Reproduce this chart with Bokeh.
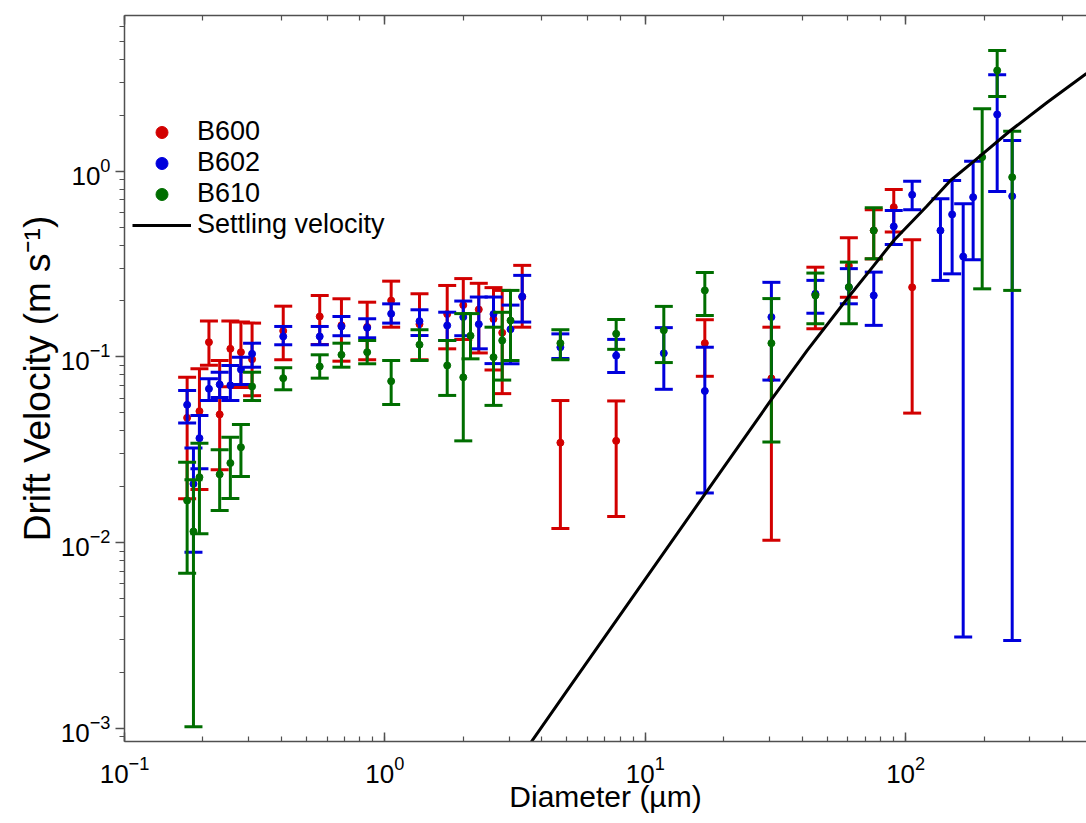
from bokeh.plotting import figure
from bokeh.models import (LogAxis, Range1d, Legend, LegendItem,
                          CustomJSTickFormatter, LogTicker)
from bokeh.embed import file_html
from bokeh.resources import INLINE

FONT = "Liberation Sans"

# ---- B600 (diameter in µm, drift velocity in m/s, lower / upper bounds)
b600_d = [0.174, 0.194, 0.211, 0.232, 0.255, 0.280, 0.309, 0.407, 0.562, 0.681,
          0.855, 1.057, 1.358, 1.735, 2.0, 2.294, 2.613, 2.822, 3.368, 4.72,
          7.73, 16.93, 30.5, 45.0, 60.5, 75.4, 90.0, 105.9]
b600_v = [0.047, 0.051, 0.120, 0.049, 0.1105, 0.106, 0.097, 0.138, 0.165, 0.148,
          0.145, 0.201, 0.150, 0.170, 0.190, 0.180, 0.160, 0.135, 0.210, 0.0345,
          0.0353, 0.1185, 0.0766, 0.2167, 0.31, 0.479, 0.64, 0.237]
b600_lo = [0.0172, 0.0193, 0.090, 0.0247, 0.069, 0.0685, 0.0618, 0.0965, 0.1166, 0.0948,
           0.0965, 0.1445, 0.0965, 0.1105, 0.124, 0.105, 0.085, 0.0634, 0.1445, 0.0119,
           0.0138, 0.0786, 0.0103, 0.1417, 0.2094, 0.337, 0.47, 0.0498]
b600_hi = [0.0777, 0.0863, 0.156, 0.0956, 0.156, 0.154, 0.152, 0.1875, 0.214, 0.2055,
           0.197, 0.2557, 0.2187, 0.2424, 0.264, 0.249, 0.236, 0.228, 0.311, 0.0582,
           0.0579, 0.1585, 0.1445, 0.304, 0.4376, 0.62, 0.797, 0.427]

# ---- B602
b602_d = [0.174, 0.184, 0.194, 0.211, 0.232, 0.255, 0.280, 0.309, 0.407, 0.562,
          0.681, 0.855, 1.057, 1.358, 1.735, 2.0, 2.294, 2.613, 3.037, 3.368,
          4.72, 7.73, 11.78, 16.93, 30.5, 45.0, 60.5, 75.4, 90.0, 105.9,
          136.0, 150.8, 166.3, 181.6, 224.6, 256.5]
b602_v = [0.0552, 0.0207, 0.0365, 0.0673, 0.071, 0.0703, 0.0855, 0.1039, 0.1288, 0.1288,
          0.1458, 0.1434, 0.1707, 0.1557, 0.1476, 0.1638, 0.150, 0.170, 0.1408, 0.2115,
          0.1127, 0.1016, 0.1046, 0.0655, 0.1638, 0.2187, 0.237, 0.2141, 0.504, 0.746,
          0.479, 0.585, 0.347, 0.7245, 2.02, 0.733]
b602_lo = [0.044, 0.00888, 0.025, 0.0582, 0.0604, 0.0582, 0.071, 0.088, 0.1162, 0.1162,
           0.130, 0.1267, 0.152, 0.1303, 0.1225, 0.130, 0.1105, 0.092, 0.0918, 0.154,
           0.098, 0.0824, 0.0669, 0.0185, 0.075, 0.1718, 0.1931, 0.1478, 0.403, 0.62,
           0.258, 0.28, 0.0031, 0.3334, 0.777, 0.00297]
b602_hi = [0.0659, 0.0323, 0.0484, 0.0762, 0.0827, 0.0898, 0.0996, 0.1185, 0.1458, 0.1458,
           0.165, 0.1604, 0.193, 0.1793, 0.174, 0.1998, 0.21, 0.21, 0.19, 0.2747,
           0.133, 0.1242, 0.1437, 0.1127, 0.252, 0.2582, 0.2986, 0.286, 0.614, 0.8834,
           0.7105, 0.891, 0.667, 1.132, 3.3, 1.463]

# ---- B610
b610_d = [0.174, 0.184, 0.194, 0.232, 0.255, 0.280, 0.309, 0.407, 0.562, 0.681,
          0.855, 1.057, 1.358, 1.735, 2.0, 2.132, 2.613, 2.822, 3.037, 4.72,
          7.73, 11.78, 16.93, 30.5, 45.0, 60.5, 75.4, 196.7, 224.6, 256.5]
b610_v = [0.01685, 0.01148, 0.0225, 0.0233, 0.0268, 0.0326, 0.0693, 0.0768, 0.0888, 0.1026,
          0.106, 0.074, 0.1163, 0.0899, 0.0776, 0.130, 0.0996, 0.1225, 0.157, 0.1185,
          0.1332, 0.139, 0.228, 0.1185, 0.2141, 0.2377, 0.479, 1.19, 3.486, 0.928]
b610_lo = [0.00684, 0.00102, 0.01115, 0.0149, 0.0173, 0.0227, 0.0582, 0.0665, 0.0768, 0.088,
           0.0918, 0.0554, 0.0956, 0.062, 0.0353, 0.0976, 0.0548, 0.075, 0.0956, 0.0965,
           0.1098, 0.0932, 0.167, 0.0348, 0.1508, 0.1508, 0.3375, 0.2325, 2.525, 0.228]
b610_hi = [0.0271, 0.0218, 0.0343, 0.0316, 0.0369, 0.0433, 0.0827, 0.0874, 0.1026, 0.1185,
           0.1225, 0.0956, 0.140, 0.1225, 0.171, 0.171, 0.1445, 0.1738, 0.228, 0.140,
           0.159, 0.187, 0.2847, 0.206, 0.2827, 0.3238, 0.635, 2.166, 4.468, 1.642]

# ---- settling velocity curve
settle_d = [3.3, 5.0, 10.0, 20.0, 30.0, 41.8, 59.6, 75.0, 90.0, 120.0,
            148.6, 182.6, 252.7, 350.0, 494.8]
settle_v = [0.00069, 0.00159, 0.00636, 0.0254, 0.057, 0.108, 0.2055, 0.307, 0.4234, 0.643,
            0.891, 1.13, 1.656, 2.35, 3.36]

RED, BLUE, GREEN = "#d20000", "#0000dc", "#006e00"
AXIS_COLOR = "#505050"

p = figure(width=1086, height=823, x_axis_type="log", y_axis_type="log",
           x_range=Range1d(0.1, 494.8), y_range=Range1d(8.49e-4, 6.89),
           output_backend="svg", toolbar_location=None,
           min_border_left=124, min_border_right=0, min_border_top=15,
           min_border_bottom=82)
p.grid.visible = False
p.outline_line_color = None
p.background_fill_color = "white"
p.border_fill_color = "white"


def style_axis(ax):
    ax.axis_line_color = AXIS_COLOR
    ax.axis_line_width = 1.5
    ax.major_tick_line_color = AXIS_COLOR
    ax.minor_tick_line_color = AXIS_COLOR
    ax.major_tick_line_width = 1.5
    ax.minor_tick_line_width = 1.2
    ax.major_label_text_font = FONT
    ax.major_label_text_font_size = "26px"
    ax.major_label_text_color = "black"
    ax.axis_label_text_font = FONT
    ax.axis_label_text_font_style = "normal"
    ax.axis_label_text_color = "black"


xa = p.xaxis[0]
style_axis(xa)
xa.axis_label = "Diameter (µm)"
xa.axis_label_text_font_size = "30px"
xa.major_tick_in, xa.major_tick_out = 9, 0
xa.minor_tick_in, xa.minor_tick_out = 5, 0
xa.major_label_standoff = 14
xa.axis_label_standoff = -6

ya = p.yaxis[0]
style_axis(ya)
ya.axis_label = "Drift Velocity (m s⁻¹)"
ya.axis_label_text_font_size = "37px"
ya.major_tick_in, ya.major_tick_out = 0, 9
ya.minor_tick_in, ya.minor_tick_out = 0, 5
ya.major_label_standoff = 5
ya.axis_label_standoff = 0

top = LogAxis(ticker=LogTicker(), formatter=CustomJSTickFormatter(code="return ''"))
style_axis(top)
top.major_tick_in, top.major_tick_out = 9, 0
top.minor_tick_in, top.minor_tick_out = 5, 0
top.major_label_standoff = 0
p.add_layout(top, "above")


def draw_series(d, v, lo, hi, color):
    p.segment(x0=d, y0=lo, x1=d, y1=hi, line_color=color, line_width=3)
    p.scatter(d, lo, marker="dash", size=18, line_color=color, line_width=3)
    p.scatter(d, hi, marker="dash", size=18, line_color=color, line_width=3)
    return p.scatter(d, v, marker="circle", size=7, fill_color=color, line_color=color)


r600 = draw_series(b600_d, b600_v, b600_lo, b600_hi, RED)
r602 = draw_series(b602_d, b602_v, b602_lo, b602_hi, BLUE)
r610 = draw_series(b610_d, b610_v, b610_lo, b610_hi, GREEN)
rset = p.line(settle_d, settle_v, line_color="black", line_width=3)

legend = Legend(items=[LegendItem(label="B600", renderers=[r600]),
                       LegendItem(label="B602", renderers=[r602]),
                       LegendItem(label="B610", renderers=[r610]),
                       LegendItem(label="Settling velocity", renderers=[rset])],
                location=(8, 501), label_text_font=FONT, label_text_font_size="27px",
                label_text_color="black",
                glyph_width=59, glyph_height=30, label_height=30, label_standoff=6,
                spacing=0, padding=0, margin=0, border_line_color=None,
                background_fill_alpha=0)
p.add_layout(legend)

open("out.html", "w").write(file_html(p, INLINE))
